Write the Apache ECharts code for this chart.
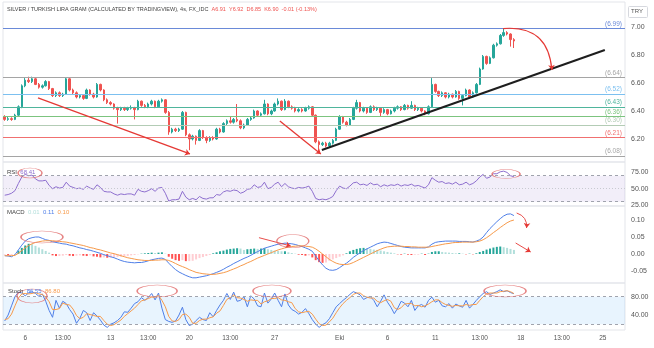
<!DOCTYPE html>
<html><head><meta charset="utf-8">
<script src="https://cdn.jsdelivr.net/npm/echarts@6/dist/echarts.min.js"></script>
<style>html,body{margin:0;padding:0;background:#fff}#c{width:654px;height:348px}</style>
</head><body><div id="c"></div>
<script>
// ---------- DATA ----------
const opens=[6.36,6.34,6.345,6.34,6.37,6.43,6.58,6.62,6.61,6.63,
6.59,6.57,6.58,6.61,6.56,6.51,6.53,6.51,6.52,6.63,
6.55,6.53,6.50,6.51,6.49,6.55,6.52,6.50,6.59,6.55,
6.48,6.46,6.45,6.42,6.41,6.42,6.41,6.42,6.425,6.41,
6.47,6.44,6.43,6.45,6.47,6.43,6.47,6.48,6.39,6.25,
6.27,6.26,6.27,6.39,6.23,6.20,6.22,6.19,6.26,6.21,
6.19,6.21,6.20,6.27,6.25,6.31,6.33,6.32,6.34,6.33,
6.28,6.30,6.34,6.35,6.40,6.37,6.38,6.45,6.38,6.40,
6.45,6.47,6.41,6.47,6.43,6.42,6.40,6.41,6.40,6.42,
6.43,6.37,6.18,6.16,6.17,6.15,6.17,6.19,6.27,6.36,
6.32,6.30,6.34,6.42,6.46,6.40,6.42,6.39,6.43,6.41,
6.42,6.39,6.41,6.38,6.40,6.42,6.43,6.41,6.44,6.42,
6.44,6.41,6.42,6.40,6.38,6.43,6.59,6.54,6.51,6.53,
6.50,6.52,6.50,6.54,6.49,6.51,6.55,6.50,6.53,6.59,
6.70,6.79,6.74,6.78,6.87,6.88,6.94,6.96,6.95,6.91];
const closes=[6.34,6.345,6.34,6.37,6.43,6.58,6.62,6.61,6.63,6.59,
6.57,6.58,6.61,6.56,6.51,6.53,6.51,6.52,6.63,6.55,
6.53,6.50,6.51,6.49,6.55,6.52,6.50,6.59,6.55,6.48,
6.46,6.45,6.42,6.41,6.42,6.41,6.42,6.425,6.41,6.47,
6.44,6.43,6.45,6.47,6.43,6.47,6.48,6.39,6.25,6.27,
6.26,6.27,6.39,6.23,6.20,6.22,6.19,6.26,6.21,6.19,
6.21,6.20,6.27,6.25,6.31,6.33,6.32,6.34,6.33,6.28,
6.30,6.34,6.35,6.40,6.37,6.38,6.45,6.38,6.40,6.45,
6.47,6.41,6.47,6.43,6.42,6.40,6.41,6.40,6.42,6.43,
6.37,6.18,6.16,6.17,6.15,6.17,6.19,6.27,6.36,6.32,
6.30,6.34,6.42,6.46,6.40,6.42,6.39,6.43,6.41,6.42,
6.39,6.41,6.38,6.40,6.42,6.43,6.41,6.44,6.42,6.44,
6.41,6.42,6.40,6.38,6.43,6.59,6.54,6.51,6.53,6.50,
6.52,6.50,6.54,6.49,6.51,6.55,6.50,6.53,6.59,6.70,
6.79,6.74,6.78,6.87,6.88,6.94,6.96,6.95,6.91,6.90];
const lows=[6.33,6.33,6.33,6.335,6.365,6.42,6.57,6.60,6.60,6.585,
6.56,6.56,6.575,6.55,6.50,6.50,6.50,6.50,6.515,6.54,
6.52,6.49,6.49,6.48,6.485,6.51,6.49,6.495,6.54,6.47,
6.45,6.44,6.41,6.31,6.40,6.40,6.40,6.41,6.34,6.405,
6.43,6.42,6.42,6.44,6.42,6.425,6.46,6.38,6.23,6.24,
6.25,6.25,6.265,6.22,6.12,6.19,6.16,6.185,6.20,6.17,
6.18,6.19,6.195,6.24,6.245,6.30,6.31,6.31,6.32,6.27,
6.27,6.295,6.33,6.345,6.36,6.36,6.375,6.37,6.37,6.395,
6.44,6.40,6.405,6.42,6.41,6.39,6.39,6.39,6.395,6.41,
6.36,6.17,6.11,6.15,6.14,6.14,6.16,6.185,6.265,6.31,
6.29,6.295,6.335,6.41,6.39,6.39,6.38,6.385,6.40,6.40,
6.36,6.38,6.37,6.375,6.39,6.41,6.40,6.405,6.41,6.415,
6.40,6.40,6.39,6.37,6.375,6.425,6.53,6.50,6.50,6.49,
6.49,6.49,6.495,6.48,6.44,6.505,6.49,6.495,6.525,6.585,
6.695,6.73,6.735,6.775,6.86,6.875,6.93,6.94,6.86,6.85];
const highs=[6.37,6.36,6.355,6.38,6.44,6.59,6.635,6.645,6.645,6.64,
6.60,6.59,6.62,6.615,6.565,6.54,6.54,6.53,6.64,6.635,
6.56,6.54,6.52,6.52,6.56,6.555,6.53,6.60,6.595,6.555,
6.49,6.47,6.455,6.43,6.43,6.43,6.43,6.44,6.43,6.48,
6.475,6.45,6.46,6.48,6.475,6.48,6.49,6.485,6.40,6.28,
6.28,6.28,6.40,6.395,6.24,6.23,6.225,6.27,6.265,6.22,
6.22,6.22,6.28,6.28,6.32,6.34,6.36,6.35,6.45,6.34,
6.31,6.35,6.36,6.41,6.405,6.39,6.48,6.455,6.41,6.46,
6.49,6.475,6.485,6.475,6.44,6.43,6.42,6.42,6.43,6.44,
6.435,6.375,6.19,6.18,6.18,6.18,6.20,6.28,6.37,6.365,
6.33,6.35,6.43,6.48,6.465,6.43,6.425,6.44,6.44,6.43,
6.425,6.42,6.415,6.41,6.43,6.44,6.435,6.45,6.445,6.47,
6.445,6.43,6.425,6.405,6.44,6.635,6.595,6.545,6.54,6.535,
6.53,6.525,6.55,6.545,6.52,6.56,6.555,6.54,6.60,6.71,
6.80,6.795,6.79,6.88,6.89,6.95,6.99,6.97,6.955,6.92];
const rsi=[40,41,43,47,58,68,72,70,71,65,
62,62,63,55,50,53,51,52,60,54,
52,50,51,49,54,51,49,56,52,46,
45,45,42,40,42,41,42,42,40,49,
46,45,47,50,46,51,52,43,31,33,
33,34,46,37,33,35,33,38,35,34,
36,36,41,40,45,47,46,48,47,43,
45,49,50,56,52,53,60,50,52,57,
60,53,58,53,51,50,52,51,52,54,
46,35,33,34,33,35,38,47,54,51,
50,54,59,60,56,57,55,59,56,57,
53,56,54,56,55,57,54,56,55,57,
54,55,53,51,56,67,63,60,61,58,
59,57,60,56,57,60,56,58,62,68,
72,66,68,73,73,76,77,75,70,68.41];
const macdLine=[-0.005,-0.006,-0.008,-0.002,0.012,0.026,0.038,0.045,0.048,0.05,
0.05,0.046,0.042,0.04,0.036,0.034,0.032,0.03,0.029,0.026,
0.024,0.021,0.018,0.016,0.013,0.011,0.008,0.005,0.002,-0.002,
-0.005,-0.008,-0.011,-0.015,-0.019,-0.022,-0.024,-0.025,-0.026,-0.025,
-0.025,-0.023,-0.02,-0.017,-0.015,-0.013,-0.012,-0.016,-0.027,-0.037,
-0.046,-0.053,-0.058,-0.063,-0.067,-0.07,-0.07,-0.068,-0.066,-0.064,
-0.061,-0.058,-0.054,-0.05,-0.045,-0.039,-0.034,-0.028,-0.023,-0.018,
-0.013,-0.009,-0.004,0.002,0.007,0.012,0.017,0.02,0.023,0.026,
0.029,0.03,0.032,0.031,0.03,0.028,0.025,0.022,0.018,0.014,
0.008,-0.006,-0.02,-0.032,-0.042,-0.047,-0.048,-0.046,-0.04,-0.033,
-0.027,-0.019,-0.01,-0.003,0.004,0.01,0.015,0.02,0.025,0.03,
0.033,0.035,0.034,0.031,0.028,0.025,0.022,0.02,0.019,0.018,
0.018,0.018,0.018,0.018,0.021,0.029,0.034,0.036,0.037,0.038,
0.038,0.038,0.038,0.037,0.037,0.037,0.036,0.035,0.038,0.042,
0.05,0.063,0.075,0.085,0.095,0.104,0.112,0.117,0.118,0.113];
const macdSignal=[-0.005,-0.005,-0.005,-0.004,0.002,0.01,0.018,0.025,0.03,0.034,
0.036,0.038,0.039,0.039,0.039,0.038,0.037,0.036,0.035,0.033,
0.031,0.029,0.027,0.025,0.022,0.019,0.017,0.014,0.012,0.009,
0.006,0.003,0.001,-0.002,-0.005,-0.008,-0.011,-0.013,-0.015,-0.017,
-0.018,-0.019,-0.019,-0.019,-0.018,-0.018,-0.017,-0.017,-0.019,-0.023,
-0.028,-0.033,-0.037,-0.041,-0.046,-0.05,-0.054,-0.056,-0.058,-0.059,
-0.06,-0.06,-0.059,-0.057,-0.055,-0.052,-0.048,-0.044,-0.04,-0.035,
-0.031,-0.026,-0.022,-0.017,-0.012,-0.008,-0.004,0.0,0.004,0.008,
0.012,0.015,0.018,0.02,0.022,0.023,0.024,0.024,0.023,0.022,
0.02,0.015,0.008,0.0,-0.008,-0.016,-0.022,-0.027,-0.03,-0.031,
-0.031,-0.029,-0.025,-0.02,-0.015,-0.01,-0.005,0.0,0.005,0.01,
0.014,0.018,0.021,0.022,0.023,0.023,0.023,0.022,0.022,0.021,
0.021,0.02,0.02,0.02,0.02,0.022,0.024,0.026,0.028,0.03,
0.031,0.033,0.034,0.034,0.035,0.035,0.035,0.035,0.036,0.038,
0.042,0.048,0.055,0.063,0.07,0.078,0.085,0.092,0.097,0.10];
const macdHist=[-0.002,-0.003,-0.003,-0.001,0.01,0.018,0.025,0.03,0.029,0.024,
0.019,0.014,0.009,0.004,-0.004,-0.006,-0.006,-0.005,-0.003,-0.005,
-0.006,-0.005,-0.004,-0.005,-0.006,-0.004,-0.007,-0.008,-0.01,-0.01,
-0.011,-0.011,-0.01,-0.009,-0.008,-0.007,-0.006,-0.004,-0.003,-0.001,
0.001,0.002,0.003,0.004,0.003,0.004,0.005,0.001,-0.008,-0.014,
-0.018,-0.02,-0.018,-0.021,-0.021,-0.02,-0.016,-0.012,-0.009,-0.006,
-0.003,0.002,0.005,0.008,0.01,0.013,0.015,0.016,0.017,0.016,
0.012,0.014,0.015,0.016,0.015,0.016,0.017,0.014,0.012,0.01,
0.009,0.008,0.008,0.005,0.003,0.001,-0.002,-0.003,-0.005,-0.004,
-0.01,-0.018,-0.024,-0.026,-0.025,-0.02,-0.016,-0.012,-0.008,-0.004,
0.002,0.008,0.012,0.015,0.017,0.018,0.017,0.015,0.013,0.012,
0.01,0.008,0.006,0.004,0.002,-0.001,-0.002,0.001,-0.002,-0.003,
-0.002,-0.002,0.001,-0.003,0.001,0.006,0.008,0.008,0.006,0.005,
0.004,0.003,0.002,0.002,0.001,-0.001,0.001,-0.001,0.002,0.006,
0.009,0.013,0.016,0.019,0.021,0.022,0.02,0.018,0.015,0.012];
const stochK=[27,40,60,80,90,88,82,88,91,87,
81,86,70,50,35,72,55,70,65,52,
42,22,33,50,45,28,45,38,29,18,
13,20,23,28,35,47,46,55,65,69,
78,72,78,87,73,88,55,30,26,24,
27,40,57,30,17,20,28,35,30,28,
45,36,50,62,72,87,74,90,70,72,
80,58,82,75,60,58,88,66,75,88,
72,58,86,62,52,48,42,46,54,43,
30,20,13,19,23,32,45,58,65,72,
78,85,91,88,84,74,78,80,72,58,
70,84,68,57,43,55,70,66,58,72,
50,60,63,57,72,79,68,72,60,58,
65,55,64,60,57,72,55,63,72,80,
87,91,85,88,91,95,91,93,89,86.55];
const stochD=[30,32,42,60,77,86,87,86,87,89,
86,85,79,69,52,52,54,66,63,62,
53,39,32,35,43,41,39,37,37,28,
20,17,19,24,29,37,43,49,55,63,
71,73,76,79,79,83,72,58,37,27,
26,30,41,42,35,22,22,28,31,31,
34,36,44,49,61,74,78,84,78,77,
74,70,73,72,72,64,69,71,76,76,
78,73,72,69,67,54,47,45,47,48,
42,31,21,17,18,25,33,45,56,65,
72,78,85,88,88,82,79,77,77,70,
67,71,74,70,56,52,56,64,65,65,
60,61,58,60,64,69,73,73,67,63,
61,59,61,60,60,63,61,63,63,72,
80,86,88,88,88,91,92,93,91,86.8];
const levels=[6.99,6.64,6.52,6.43,6.36,6.30,6.21,6.08];
const xTickIndex=[6,17,31,42,54,66,79,98,112,126,139,151,163,175];
const xTickLabels=['6','13:00','13','13:00','20','13:00','27','Eki','6','11','13:00','18','13:00','25'];
const priceTicks=[6.2,6.4,6.6,6.8,7.0];
const rsiTicks=[25,50,75];
const macdTicks=[-0.05,0,0.05,0.10];
const stochTicks=[40,80];
const lastPrice=6.90;
// drawings in data coordinates [candle index, value]
const downArrows=[[[9.74,6.493],[54.2,6.093]],[[80.5,6.329],[92.5,6.093]]];
const trendLine=[[92.8,6.121],[175.6,6.836]];
const arcArrow=[[145.8,6.989],[160.1,6.693]];
const macdArrows=[[[149.8,0.1206],[152.7,0.0765]]];
const macdStraightArrows=[[[149.5,0.0324],[153.9,0.0059]],[[74.4,0.048],[83.7,0.0235]]];
const rsiOvals=[[7.4,74.2,24,10],[146.7,72.6,28,9]];
const macdOvals=[[10.9,0.05,42,12],[84.3,0.038,32,13]];
const stochOvals=[[8,81.5,30,14],[44.6,92.4,40,12],[78.2,92.4,38,12],[146.4,92.4,42,12]];

// ---------- STYLE ----------
const TOTAL=182;
const UP='#26a69a', DOWN='#ef5350';
const levelColors=['#6a8ad8','#a5a5a5','#7cc0f0','#4fb59c','#7cc47f','#b3ccb5','#f07070','#a5a5a5'];
const BLUE='#4f7fe8', ORANGE='#f79a4a', PURPLE='#8e6fcf';
const labelFont='Liberation Sans';
const cats=Array.from({length:TOTAL},(_,i)=>{const k=xTickIndex.indexOf(i);return k>=0?xTickLabels[k]:'';});
const candleData=closes.map((c,i)=>[opens[i],c,lows[i],highs[i]]);

const grids=[
  {left:3,right:29,top:2,height:160},
  {left:3,right:29,top:162,height:44},
  {left:3,right:29,top:206,height:77},
  {left:3,right:29,top:283,height:47}
].map(g=>Object.assign(g,{show:true,borderColor:'#e3e5ea',borderWidth:1,backgroundColor:'transparent'}));

const xAxes=[];
for(let g=0;g<4;g++){
  xAxes.push({type:'category',gridIndex:g,data:cats,boundaryGap:true,
    axisLine:{show:false},axisTick:{show:false},splitLine:{show:false},
    axisLabel:{show:g===3,interval:0,fontSize:6.5,color:'#555',margin:5,fontFamily:labelFont}});
}
for(let g=0;g<4;g++){
  xAxes.push({type:'value',gridIndex:g,min:-0.5,max:TOTAL-0.5,show:false});
}
function yAx(g,min,max,ticks,dec){
  return {type:'value',gridIndex:g,position:'right',min:min,max:max,scale:true,
    splitLine:{show:false},axisLine:{show:false},axisTick:{show:false},
    axisLabel:{customValues:ticks,formatter:v=>v.toFixed(dec),fontSize:7,color:'#555',margin:6,fontFamily:labelFont}};
}
const yAxes=[
  yAx(0,6.0357,7.1786,priceTicks,2),
  yAx(1,23.38,91.08,rsiTicks,2),
  yAx(2,-0.0853,0.1412,macdTicks,2),
  yAx(3,7.3,109.9,stochTicks,2)
];

function ovalSeries(xi,yi,list){
  return {type:'scatter',xAxisIndex:xi,yAxisIndex:yi,silent:true,z:6,
    data:list.map(o=>({value:[o[0],o[1]],symbolSize:[o[2],o[3]]})),
    itemStyle:{color:'rgba(0,0,0,0)',borderColor:'#e06666',borderWidth:0.9}};
}
function arrowSeries(xi,yi,list,curv,w){
  return {type:'lines',coordinateSystem:'cartesian2d',xAxisIndex:xi,yAxisIndex:yi,silent:true,z:6,
    symbol:['none','arrow'],symbolSize:5,
    lineStyle:{color:'#e53935',width:w,curveness:curv,opacity:1},
    data:list.map(c=>({coords:c}))};
}

const histColor=p=>{const i=p.dataIndex;const v=macdHist[i];const pr=i>0?macdHist[i-1]:v;
  return v>=0?(v>=pr?'#26a69a':'#b2dfdb'):(v<pr?'#ff5252':'#ffcdd2');};

const series=[
  {type:'candlestick',xAxisIndex:0,yAxisIndex:0,data:candleData,barWidth:2,
   itemStyle:{color:UP,color0:DOWN,borderColor:UP,borderColor0:DOWN,borderWidth:1},
   markLine:{silent:true,symbol:'none',animation:false,
     data:levels.map((v,k)=>({yAxis:v,lineStyle:{color:levelColors[k],width:1,type:'solid'},
        label:{show:true,position:'insideEndTop',distance:[3,1],formatter:'('+v.toFixed(2)+')',color:levelColors[k],fontSize:6.5,fontFamily:labelFont}}))
       .concat([{yAxis:lastPrice,lineStyle:{opacity:0},
        label:{show:true,position:'end',distance:3,formatter:lastPrice.toFixed(2),color:'#fff',backgroundColor:'#ef5350',padding:[1,3,1,3],fontSize:7,fontFamily:labelFont}}])}},
  arrowSeries(4,0,downArrows,0,1.3),
  {type:'lines',coordinateSystem:'cartesian2d',xAxisIndex:4,yAxisIndex:0,silent:true,z:6,symbol:'none',
   lineStyle:{color:'#1e1e1e',width:2,opacity:1},data:[{coords:trendLine}]},
  arrowSeries(4,0,[arcArrow],0.5,1.2),
  {type:'line',xAxisIndex:1,yAxisIndex:1,data:rsi,showSymbol:false,lineStyle:{color:PURPLE,width:1}},
  {type:'line',xAxisIndex:1,yAxisIndex:1,data:[],
   markArea:{silent:true,itemStyle:{color:'rgba(126,87,194,0.10)'},data:[[{yAxis:30},{yAxis:70}]]},
   markLine:{silent:true,symbol:'none',label:{show:false},
     data:[{yAxis:70,lineStyle:{color:'#a0a3ad',type:[3,3],width:1}},{yAxis:30,lineStyle:{color:'#a0a3ad',type:[3,3],width:1}},
           {yAxis:50,lineStyle:{color:'#c8cad0',type:[1,2],width:1}}]}},
  ovalSeries(5,1,rsiOvals),
  {type:'bar',xAxisIndex:2,yAxisIndex:2,data:macdHist,barWidth:2,itemStyle:{color:histColor}},
  {type:'line',xAxisIndex:2,yAxisIndex:2,data:macdLine,showSymbol:false,lineStyle:{color:BLUE,width:1}},
  {type:'line',xAxisIndex:2,yAxisIndex:2,data:macdSignal,showSymbol:false,lineStyle:{color:ORANGE,width:1}},
  ovalSeries(6,2,macdOvals),
  arrowSeries(6,2,macdArrows,0.4,0.9),
  arrowSeries(6,2,macdStraightArrows,0,0.9),
  {type:'line',xAxisIndex:3,yAxisIndex:3,data:[],
   markArea:{silent:true,itemStyle:{color:'rgba(33,150,243,0.10)'},data:[[{yAxis:20},{yAxis:80}]]},
   markLine:{silent:true,symbol:'none',label:{show:false},
     data:[{yAxis:80,lineStyle:{color:'#a0a3ad',type:[3,3],width:1}},{yAxis:20,lineStyle:{color:'#a0a3ad',type:[3,3],width:1}}]}},
  {type:'line',xAxisIndex:3,yAxisIndex:3,data:stochK,showSymbol:false,lineStyle:{color:BLUE,width:1}},
  {type:'line',xAxisIndex:3,yAxisIndex:3,data:stochD,showSymbol:false,lineStyle:{color:ORANGE,width:1}},
  ovalSeries(7,3,stochOvals)
];

const f2=v=>v.toFixed(2);
const graphic=[
  {type:'text',left:7,top:6,z:10,style:{fontFamily:labelFont,fontSize:5.5,
    text:'{t|SILVER / TURKISH LIRA GRAM (CALCULATED BY TRADINGVIEW), 4s, FX_IDC}  {v|A'+f2(opens[opens.length-1])+'}  {v|Y'+f2(highs[highs.length-1])+'}  {v|D'+f2(lows[lows.length-1])+'}  {v|K'+f2(closes[closes.length-1])+'}  {v|-0.01 (-0.13%)}',
    rich:{t:{fill:'#444',fontSize:5.5,fontFamily:labelFont},v:{fill:'#ef5350',fontSize:5.5,fontFamily:labelFont}}}},
  {type:'rect',left:628,top:6,z:10,shape:{width:19,height:11,r:1},style:{fill:'#fff',stroke:'#d6d8de',lineWidth:1}},
  {type:'text',left:631,top:8.5,z:11,style:{text:'TRY',fontSize:6,fill:'#555',fontFamily:labelFont}},
  {type:'text',left:7,top:169,z:10,style:{fontFamily:labelFont,fontSize:6,
    text:'{a|RSI}  {b|'+f2(rsi[rsi.length-1])+'}',rich:{a:{fill:'#444',fontSize:6},b:{fill:PURPLE,fontSize:6}}}},
  {type:'text',left:7,top:209,z:10,style:{fontFamily:labelFont,fontSize:6,
    text:'{a|MACD}  {h|'+f2(macdHist[macdHist.length-1])+'}  {m|'+f2(macdLine[macdLine.length-1])+'}  {s|'+f2(macdSignal[macdSignal.length-1])+'}',
    rich:{a:{fill:'#444',fontSize:6},h:{fill:'#b2dfdb',fontSize:6},m:{fill:BLUE,fontSize:6},s:{fill:ORANGE,fontSize:6}}}},
  {type:'text',left:8,top:288,z:10,style:{fontFamily:labelFont,fontSize:6,
    text:'{a|Stoch}  {k|'+f2(stochK[stochK.length-1])+'}  {d|'+f2(stochD[stochD.length-1])+'}',
    rich:{a:{fill:'#444',fontSize:6},k:{fill:BLUE,fontSize:6},d:{fill:ORANGE,fontSize:6}}}}
];

const chart=echarts.init(document.getElementById('c'),null,{renderer:'canvas'});
chart.setOption({animation:false,backgroundColor:'#ffffff',grid:grids,xAxis:xAxes,yAxis:yAxes,series:series,graphic:graphic});
</script>
</body></html>
